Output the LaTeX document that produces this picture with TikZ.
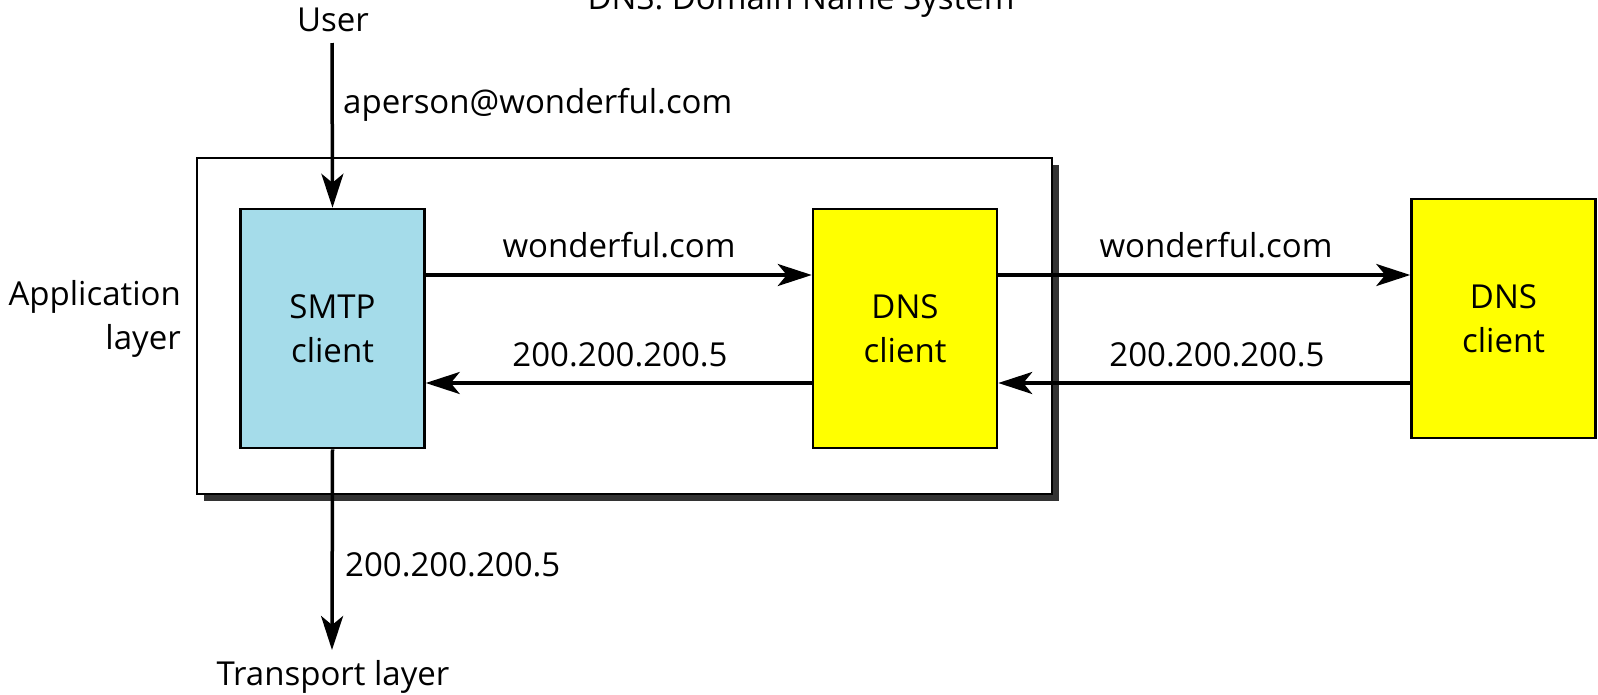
\documentclass[tikz,border=0pt]{standalone}
\usepackage{fontspec}
\setmainfont{Open Sans}
\usetikzlibrary{arrows.meta}
\definecolor{smtpblue}{RGB}{165,220,234}
\definecolor{dnsyellow}{RGB}{255,255,0}
\definecolor{shadowgray}{RGB}{51,51,51}
\begin{document}
\begin{tikzpicture}[x=1pt,y=-1pt,
  every node/.style={font=\fontsize{33}{44}\selectfont, inner sep=0pt},
  box/.style={draw, line width=2.5pt, minimum width=184pt, minimum height=239pt, align=center},
  arr/.style={line width=3.5pt, -{Stealth[length=34pt,width=22pt,inset=9pt]}},
  lbl/.style={anchor=base}]
\useasboundingbox (0,0) rectangle (1598,694);
% outer application-layer frame with shadow
\fill[shadowgray] (204,165) rectangle (1059,501);
\draw[line width=2pt, fill=white] (197,158) rectangle (1052,494);
% boxes
\node[box, fill=smtpblue] (smtp) at (332.5,328.5) {SMTP\\client};
\node[box, fill=dnsyellow] (dns) at (905,328.5) {DNS\\client};
\node[box, fill=dnsyellow] (rdns) at (1503.5,318.5) {DNS\\client};
% connectors
\coordinate (ya) at (0,275);
\coordinate (yb) at (0,383);
\draw[arr] (smtp.east |- ya) -- (dns.west |- ya);
\draw[arr] (dns.west |- yb) -- (smtp.east |- yb);
\draw[arr] (dns.east |- ya) -- (rdns.west |- ya);
\draw[arr] (rdns.west |- yb) -- (dns.east |- yb);
\coordinate (ustart) at (332,43);
\coordinate (tend) at (332,650);
\draw[arr] (ustart) -- (smtp.north);
\draw[arr] (smtp.south) -- (tend);
% labels
\node[lbl] (user) at (333,31) {User};
\node[lbl] (title) at (801,9) {DNS: Domain Name System};
\node[anchor=base west] (l1) at (343,113) {aperson@wonderful.com};
\node[lbl] (l2) at (619,257) {wonderful.com};
\node[lbl] (l3) at (620,366) {200.200.200.5};
\node[lbl] (l4) at (1216,257) {wonderful.com};
\node[lbl] (l5) at (1217,366) {200.200.200.5};
\node[anchor=base west] (l6) at (345,576) {200.200.200.5};
\node[lbl] (tl) at (333,685) {Transport layer};
\node[anchor=east, align=right] (al) at (181,319) {Application\\layer};
\end{tikzpicture}
\end{document}
